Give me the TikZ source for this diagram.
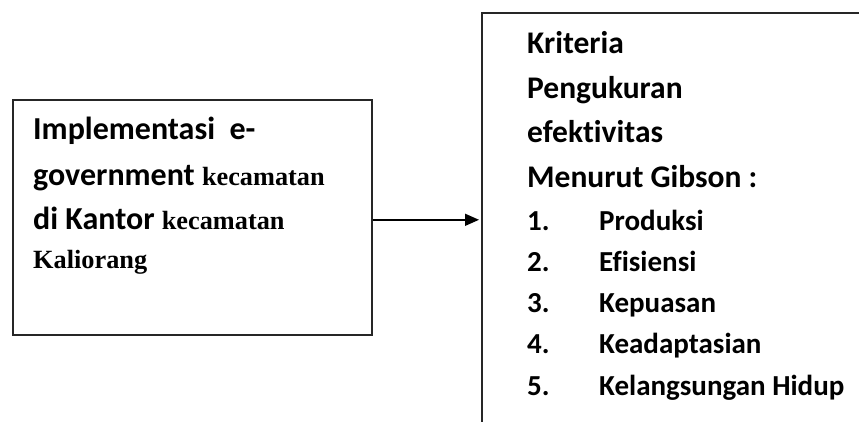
\documentclass[tikz,border=0pt]{standalone}
\usepackage{fontspec}
\setmainfont{Carlito}[Ligatures=NoCommon]
\newfontfamily\timesbold{Liberation Serif}
\usetikzlibrary{arrows.meta,positioning}
\definecolor{cline}{HTML}{262626}

\begin{document}
\begin{tikzpicture}[x=1pt,y=-1pt,
    box/.style={draw=cline,line width=1.6pt,rectangle,anchor=north west,inner sep=0pt},
    txt/.style={anchor=base west,inner sep=0pt,font=\fontsize{31.5}{36}\selectfont\bfseries},
    big/.style={font=\fontsize{32}{36}\selectfont\bfseries},
    itm/.style={font=\fontsize{29}{34}\selectfont\bfseries},
    srf/.style={font=\fontsize{26.3}{30}\selectfont\timesbold\bfseries},
    arr/.style={-{Triangle[length=14pt,width=12pt]},line width=1.6pt,shorten >=2pt}]
  \clip (0,0) rectangle (859,421);
  % boxes
  \node[box,minimum width=359pt,minimum height=235pt] (impl) at (12,99) {};
  \node[box,minimum width=440pt,minimum height=450pt] (crit) at (481,12) {};
  % left text
  \node[txt,big] (impl1) at (33,139) {Implementasi\ \ e-};
  \node[txt,big] (impl2) at (33,185) {government {\fontsize{26.3}{30}\selectfont\timesbold kecamatan}};
  \node[txt,big] (impl3) at (33,229) {di Kantor {\fontsize{26.3}{30}\selectfont\timesbold kecamatan}};
  \node[txt,srf] (impl4) at (33,268) {Kaliorang};
  % right text
  \foreach \y/\t [count=\i] in {53/Kriteria,98/Pengukuran,142/efektivitas,187/Menurut Gibson :}
    \node[txt] (head\i) at (527,\y) {\t};
  \foreach \t [count=\i] in {Produksi,Efisiensi,Kepuasan,Keadaptasian,Kelangsungan Hidup}{
    \node[txt,itm] (num\i) at (527,{230+41.25*(\i-1)}) {\i.};
    \node[txt,itm] (item\i) at (599,{230+41.25*(\i-1)}) {\t};
  }
  \draw[arr] ([yshift=-2.5pt]impl.east) -- ([yshift=-2.5pt]impl.east -| crit.west);
\end{tikzpicture}
\end{document}
